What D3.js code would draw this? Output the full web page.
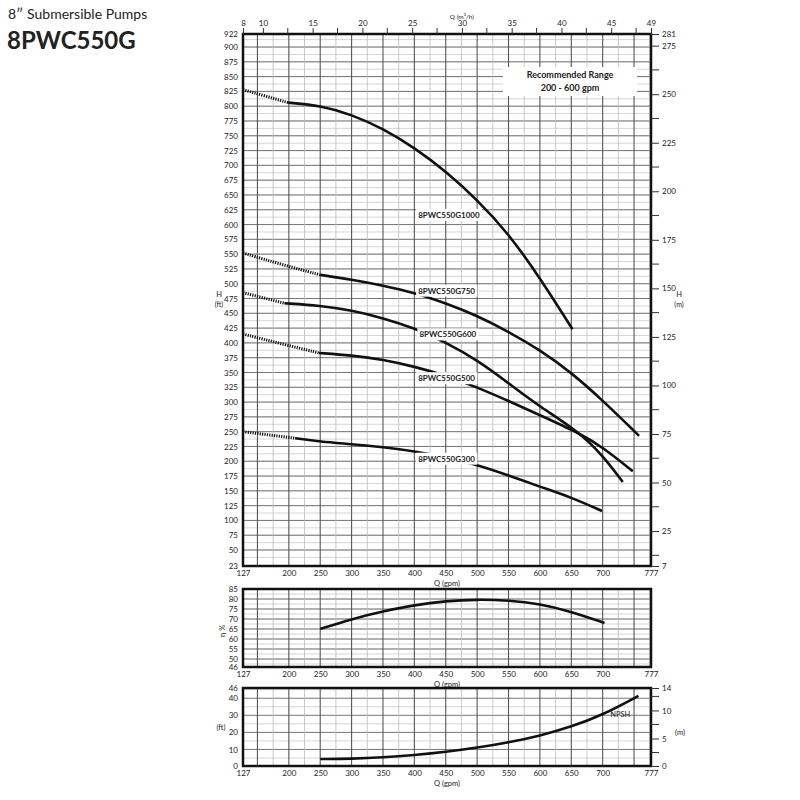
<!DOCTYPE html>
<html><head><meta charset="utf-8">
<script src="https://cdn.jsdelivr.net/npm/d3@7"></script>
<style>body{margin:0;background:#fff}text{font-family:Lato,"Open Sans",sans-serif;fill:#222;-webkit-font-smoothing:antialiased}</style>
</head><body><svg id="c" width="800" height="800"></svg>
<script>
// ---- data ----
const g1000Dot=[[127,828],[160,818],[199,806]];
const g1000=[[199,806],[250,801],[300,786],[350,762],[400,730],[450,690],[500,642],[550,585],[600,510],[652,423]];
const g750Dot=[[127,552],[190,532],[250,515]];
const g750=[[250,515],[300,507],[350,497],[400,485],[450,467],[500,446],[550,419],[600,388],[650,350],[700,303],[758,243]];
const g600Dot=[[127,485],[193,467]];
const g600=[[193,467],[250,463],[300,455],[350,442],[400,425],[450,401],[500,371],[550,332],[600,292],[662,250],[700,210],[732,165]];
const g500Dot=[[127,415],[190,398],[248,383]];
const g500=[[248,383],[300,379],[350,372],[400,360],[450,345],[500,325],[550,302],[600,278],[662,248],[700,224],[748,183]];
const g300Dot=[[127,250],[210,239]];
const g300=[[210,239],[250,233],[300,229],[350,224],[400,217],[450,207],[500,194],[550,176],[600,157],[650,139],[699,116]];
const curveLabels=[["8PWC550G1000",406,616],["8PWC550G750",406,488],["8PWC550G600",408,414],["8PWC550G500",406,340],["8PWC550G300",406,204]];
const effData=[[250,65],[300,70],[350,73.8],[400,77],[450,79],[500,79.8],[550,79.3],[600,77.6],[650,73.7],[703,68]];
const npshData=[[250,4.4],[300,4.5],[350,5.3],[400,6.7],[450,8.5],[500,11],[550,14.1],[600,18],[650,23.3],[700,30.2],[757,41.4]];
const gpmTicks=[127,200,250,300,350,400,450,500,550,600,650,700,777];
const m3hTicks=[8,10,15,20,25,30,35,40,45,49];
const ftTicks=[23,50,75,100,125,150,175,200,225,250,275,300,325,350,375,400,425,450,475,500,525,550,575,600,625,650,675,700,725,750,775,800,825,850,875,900,922];
const mTicks=[7,25,50,75,100,125,150,175,200,225,250,275,281];
const effTicks=[46,50,55,60,65,70,75,80,85];
const npFtTicks=[0.3,10,20,30,40,46];
const npMTicks=[0.1,5,10,14];

const svg=d3.select("#c");
const X0=243,X1=651;
const x=d3.scaleLinear().domain([127,777]).range([X0,X1]);
const xm=d3.scaleLinear().domain([8,49]).range([X0,X1]);
const TC="#333";

function grid(g,y,dark,light){
  const [y0,y1]=y.domain();
  light.forEach(v=>g.append("line").attr("x1",X0).attr("x2",X1).attr("y1",y(v)).attr("y2",y(v)).attr("stroke","#ccc").attr("stroke-width",0.8));
  dark.forEach(v=>g.append("line").attr("x1",X0).attr("x2",X1).attr("y1",y(v)).attr("y2",y(v)).attr("stroke","#777").attr("stroke-width",1));
  d3.range(175,777,50).forEach(v=>g.append("line").attr("x1",x(v)).attr("x2",x(v)).attr("y1",y(y0)).attr("y2",y(y1)).attr("stroke","#bbb").attr("stroke-width",0.8));
  d3.range(150,777,50).forEach(v=>g.append("line").attr("x1",x(v)).attr("x2",x(v)).attr("y1",y(y0)).attr("y2",y(y1)).attr("stroke","#555").attr("stroke-width",1.1));
}
function frame(y){
  const [y0,y1]=y.domain();
  svg.append("rect").attr("x",X0).attr("y",y(y1)).attr("width",X1-X0).attr("height",y(y0)-y(y1)).attr("fill","none").attr("stroke","#111").attr("stroke-width",2.5);
}
function txt(x0,y0,s,size,anchor){
  return svg.append("text").attr("x",x0).attr("y",y0).attr("font-size",size).attr("text-anchor",anchor||"start").attr("fill",TC).text(s);
}
function bottomAxis(y){
  const yb=y(y.domain()[0]);
  svg.append("g").attr("transform",`translate(0,${yb})`).call(d3.axisBottom(x).tickValues(gpmTicks).tickSize(0).tickPadding(4))
   .call(g=>{g.select(".domain").remove();g.selectAll("text").attr("font-size",8).attr("fill",TC);});
  txt(x(452),yb+20,"Q (gpm)",7.5,"middle");
}
function leftAxis(y,ticks){
  svg.append("g").attr("transform",`translate(${X0-3},0)`).call(d3.axisLeft(y).tickValues(ticks).tickSize(0).tickPadding(2))
   .call(g=>{g.select(".domain").remove();g.selectAll("text").attr("font-size",8).attr("fill",TC);});
}
function rightAxis(y,ticks,minor){
  const g=svg.append("g").attr("transform",`translate(${X1},0)`);
  g.call(d3.axisRight(y).tickValues(ticks).tickSize(8).tickPadding(3))
   .call(g=>{g.select(".domain").remove();g.selectAll("line").attr("stroke","#333");g.selectAll("text").attr("font-size",8).attr("fill",TC);});
  minor.forEach(v=>g.append("line").attr("x1",0).attr("x2",8).attr("y1",y(v)).attr("y2",y(v)).attr("stroke","#333"));
}
const line=(xs,ys)=>d3.line().x(d=>xs(d[0])).y(d=>ys(d[1])).curve(d3.curveBasis);

// ---- main panel ----
const y=d3.scaleLinear().domain([23,922]).range([566,34]);
const ym=d3.scaleLinear().domain([7,281]).range([566,34]);
grid(svg.append("g"),y,d3.range(50,922,25),d3.range(37.5,922,12.5));
[[g1000Dot,g1000],[g750Dot,g750],[g600Dot,g600],[g500Dot,g500],[g300Dot,g300]].forEach(([dd,s])=>{
  svg.append("path").attr("d",line(x,y)(dd)).attr("fill","none").attr("stroke","#111").attr("stroke-width",3).attr("stroke-dasharray","1.2,1.2");
  svg.append("path").attr("d",line(x,y)(s)).attr("fill","none").attr("stroke","#111").attr("stroke-width",2.6);
});
curveLabels.forEach(([t,q,h])=>{
  const tx=svg.append("text").attr("x",x(q)).attr("y",y(h)).attr("font-size",8).attr("font-weight","bold").attr("fill","#111").attr("dy","0.35em").text(t);
  const b=tx.node().getBBox();
  svg.insert("rect",()=>tx.node()).attr("x",b.x-2).attr("y",b.y-1).attr("width",b.width+4).attr("height",b.height+2).attr("fill","#fff");
});
frame(y);
svg.append("rect").attr("x",503).attr("y",67).attr("width",134).attr("height",29).attr("fill","#fff");
svg.append("text").attr("x",570).attr("y",78).attr("text-anchor","middle").attr("font-size",9).attr("font-weight","bold").attr("fill","#111").text("Recommended Range");
svg.append("text").attr("x",570).attr("y",91).attr("text-anchor","middle").attr("font-size",9).attr("font-weight","bold").attr("fill","#111").text("200 - 600 gpm");
leftAxis(y,ftTicks);
rightAxis(ym,mTicks,d3.range(12.5,281,25));
bottomAxis(y);
svg.append("g").attr("transform",`translate(0,34)`).call(d3.axisTop(xm).tickValues(m3hTicks).tickSize(6).tickPadding(2))
 .call(g=>{g.select(".domain").remove();g.selectAll("line").attr("stroke","#333");g.selectAll("text").attr("font-size",8).attr("fill",TC);});
d3.range(12.5,49,5).forEach(v=>svg.append("line").attr("x1",xm(v)).attr("x2",xm(v)).attr("y1",28).attr("y2",34).attr("stroke","#333"));
txt(xm(30),19,"Q (m³/h)",6.5,"middle");
txt(219,297,"H",7.5,"middle"); txt(219,307,"(ft)",7,"middle");
txt(679,297,"H",7.5,"middle"); txt(679,307,"(m)",7,"middle");

// ---- efficiency ----
const ye=d3.scaleLinear().domain([46,85]).range([667,589]);
grid(svg.append("g"),ye,d3.range(50,85,5),d3.range(47.5,85,2.5));
svg.append("path").attr("d",line(x,ye)(effData)).attr("fill","none").attr("stroke","#111").attr("stroke-width",2.6);
frame(ye);
leftAxis(ye,effTicks);
bottomAxis(ye);
svg.append("text").attr("transform","translate(225,631) rotate(-90)").attr("text-anchor","middle").attr("font-size",7.5).attr("fill",TC).text("η %");

// ---- NPSH ----
const yn=d3.scaleLinear().domain([0.3,46]).range([766,688]);
const ynm=d3.scaleLinear().domain([0.1,14]).range([766,688]);
grid(svg.append("g"),yn,d3.range(10,46,10),d3.range(5,46,10));
svg.append("path").attr("d",line(x,yn)(npshData)).attr("fill","none").attr("stroke","#111").attr("stroke-width",2.6);
frame(yn);
txt(x(712),yn(29),"NPSH",7.5);
leftAxis(yn,npFtTicks);
rightAxis(ynm,npMTicks,[2.5,7.5,12.5]);
bottomAxis(yn);
txt(221,730,"(ft)",7.5,"middle");
txt(680,735,"(m)",7.5,"middle");

// ---- titles ----
svg.append("text").attr("x",8).attr("y",19).attr("font-size",14).attr("fill","#111").text("8\u2033 Submersible Pumps");
svg.append("text").attr("x",7).attr("y",49).attr("font-size",24).attr("font-weight","bold").attr("fill","#111").text("8PWC550G");
</script></body></html>
